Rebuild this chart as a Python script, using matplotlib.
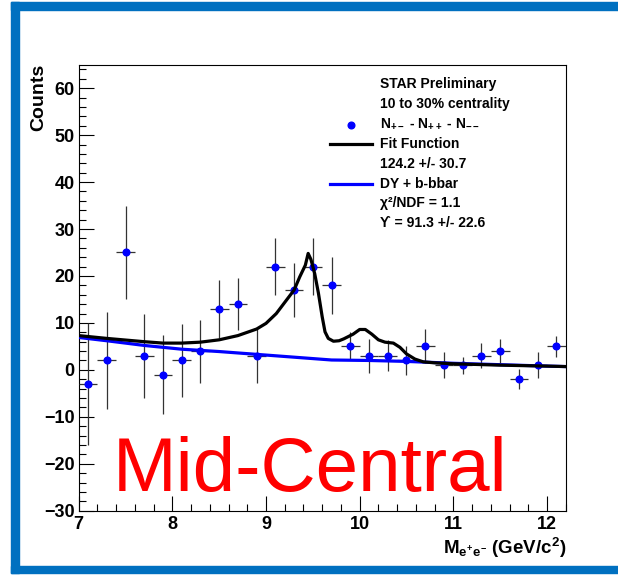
import matplotlib
matplotlib.use("Agg")
from matplotlib import pyplot as plt
from matplotlib.patches import Rectangle
from matplotlib.ticker import MultipleLocator

plt.rcParams['font.family'] = ['Liberation Sans', 'DejaVu Sans']
plt.rcParams['font.weight'] = 'bold'
plt.rcParams['mathtext.fontset'] = 'custom'
plt.rcParams['mathtext.rm'] = 'Liberation Sans:bold'
plt.rcParams['mathtext.it'] = 'Liberation Sans:bold'
plt.rcParams['mathtext.bf'] = 'Liberation Sans:bold'

# data points (bin centres, counts, errors)
mass = [7.1, 7.3, 7.5, 7.7, 7.9, 8.1, 8.3, 8.5, 8.7, 8.9, 9.1, 9.3, 9.5,
        9.7, 9.9, 10.1, 10.3, 10.5, 10.7, 10.9, 11.1, 11.3, 11.5, 11.7, 11.9, 12.1]
counts = [-3, 2, 25, 3, -1, 2, 4, 13, 14, 3, 22, 17, 22,
          18, 5, 3, 3, 2, 5, 1, 1, 3, 4, -2, 1, 5]
count_err = [13, 10.4, 9.9, 9, 8.4, 7.7, 6.7, 6.2, 5.6, 5.7, 6, 5.8, 6,
             6, 3, 3.6, 3.3, 3, 3.6, 2.7, 1.8, 2.7, 2.6, 2.1, 2.7, 2.2]
bin_half = 0.1

# fit function
fit_x = [7.0, 7.3, 7.7, 7.9, 8.1, 8.3, 8.5, 8.7, 8.9, 9.0, 9.11, 9.22, 9.3,
         9.36, 9.42, 9.45, 9.48, 9.52, 9.56, 9.6, 9.63, 9.665, 9.72, 9.78,
         9.83, 9.93, 10.0, 10.06, 10.13, 10.2, 10.27, 10.36, 10.43, 10.5,
         10.59, 10.68, 10.8, 11.0, 11.5, 12.0, 12.2]
fit_y = [7.3, 6.7, 6.0, 5.7, 5.7, 5.9, 6.4, 7.3, 8.7, 9.9, 12.0, 14.9, 17.0,
         19.8, 22.3, 24.8, 23.5, 20.5, 16.3, 11.3, 8.1, 6.7, 6.1, 6.2,
         6.6, 7.6, 8.6, 8.6, 7.6, 6.4, 5.9, 5.7, 4.8, 3.4,
         2.3, 1.7, 1.5, 1.3, 1.0, 0.8, 0.7]

# DY + b-bbar background
bkg_x = [7.0, 7.3, 7.7, 8.1, 8.5, 8.9, 9.3, 9.7, 10.1, 10.5, 11.0, 11.5, 12.0, 12.2]
bkg_y = [6.9, 6.2, 5.2, 4.4, 3.9, 3.3, 2.7, 2.1, 2.0, 1.8, 1.4, 1.1, 0.8, 0.7]

legend_lines = ["STAR Preliminary", "10 to 30% centrality",
                r"N$_{+-}$ - N$_{++}$ - N$_{--}$", "Fit Function",
                "124.2 +/- 30.7", "DY + b-bbar",
                "\u03c7\u00b2/NDF = 1.1", "\u03d2 = 91.3 +/- 22.6"]

W, H = 618, 575
fig = plt.figure(figsize=(W / 100, H / 100), dpi=100)
ax = fig.add_axes([78.7 / W, 1 - 510.7 / H, 487 / W, 446 / H])

ax.errorbar(mass, counts, yerr=count_err, xerr=bin_half, fmt='o', color='blue',
            ms=4.8, ecolor='#333333', elinewidth=0.9, capsize=0, zorder=3)
ax.plot(bkg_x, bkg_y, color='blue', lw=2.3, zorder=4)
ax.plot(fit_x, fit_y, color='black', lw=2.3, zorder=5, solid_joinstyle='round')

ax.set_xlim(7, 12.2)
ax.set_ylim(-30, 65)
ax.xaxis.set_major_locator(MultipleLocator(1))
ax.xaxis.set_minor_locator(MultipleLocator(0.2))
ax.yaxis.set_major_locator(MultipleLocator(10))
ax.yaxis.set_minor_locator(MultipleLocator(2))
ax.tick_params(which='both', direction='in', top=False, right=False, width=0.8)
ax.tick_params(which='major', length=10.5, labelsize=13)
ax.tick_params(which='minor', length=5.2)
ax.tick_params(axis='x', pad=4)
ax.tick_params(axis='y', pad=3)
for lab in ax.get_xticklabels() + ax.get_yticklabels():
    lab.set_fontweight('bold')
for sp in ax.spines.values():
    sp.set_linewidth(0.8)

# legend text block
def ax_pt(px, py):
    return (px - 78.7) / 487, (510.7 - py) / 446

for i, txt in enumerate(legend_lines):
    tx, ty = ax_pt(380, 84 + 19.9 * i)
    ax.text(tx, ty, txt, transform=ax.transAxes, fontsize=10, fontweight='bold',
            ha='left', va='center')
dx, dy = ax_pt(351, 124.5)
ax.plot([dx], [dy], 'o', color='blue', ms=4.8, transform=ax.transAxes, clip_on=False)
for py, col in [(144, 'black'), (183.5, 'blue')]:
    x0, y0 = ax_pt(330, py)
    x1, _ = ax_pt(372, py)
    ax.plot([x0, x1], [y0, y0], color=col, lw=2.3, transform=ax.transAxes)

mx, my = ax_pt(113, 490.7)
ax.text(mx, my, "Mid-Central", transform=ax.transAxes, color='red', fontsize=55,
        fontweight='normal', ha='left', va='baseline')

fig.text(39 / W, 1 - 64 / H, "Counts", rotation=90, ha='center', va='top',
         fontsize=14, fontweight='bold')
fig.text(566 / W, 1 - 548 / H, r"M$_{e^{+}e^{-}}$ (GeV/c$^{2}$)", ha='right',
         va='center', fontsize=13.5, fontweight='bold')

# blue slide frame
frame = '#0070C0'
fig.patches.append(Rectangle((11 / W, 1 - 9.5 / H), 1, 7.5 / H, transform=fig.transFigure,
                             color=frame, zorder=10))
fig.patches.append(Rectangle((11 / W, 1 - 573 / H), 8 / W, 571 / H, transform=fig.transFigure,
                             color=frame, zorder=10))
fig.patches.append(Rectangle((11 / W, 1 - 573 / H), 1, 7 / H, transform=fig.transFigure,
                             color=frame, zorder=10))

fig.savefig("out.png", dpi=100)
